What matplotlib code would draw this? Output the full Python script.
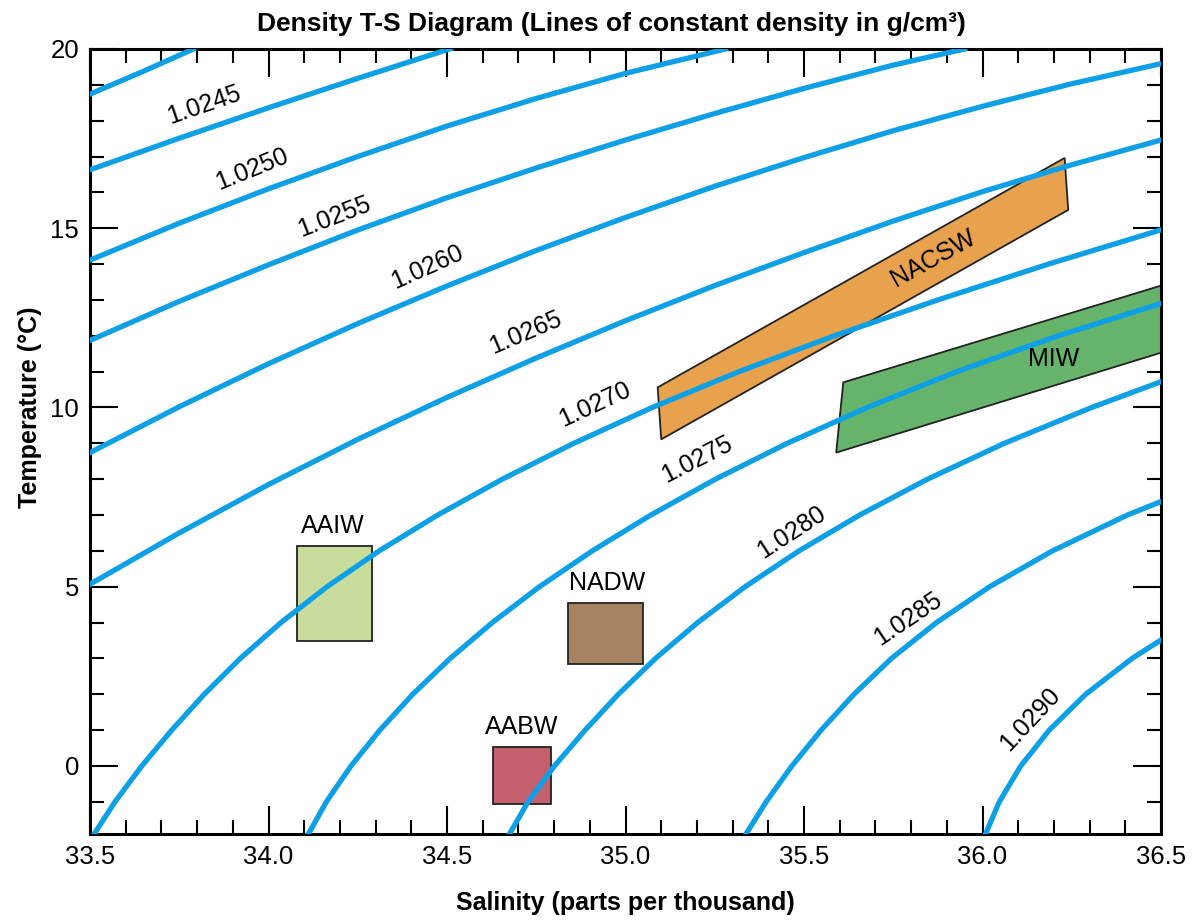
#LIBRERIAS
import matplotlib.pyplot as plt
from matplotlib.ticker import MultipleLocator, FormatStrFormatter

plt.rcParams['font.family'] = ['Liberation Sans', 'DejaVu Sans']

#LINEAS DE DENSIDAD CONSTANTE (salinidad, temperatura)
s_0240 = [33.50, 33.65, 33.79]
t_0240 = [18.74, 19.38, 20.00]

s_0245 = [33.50, 33.75, 34.00, 34.25, 34.51]
t_0245 = [16.63, 17.51, 18.36, 19.18, 20.01]

s_0250 = [33.50, 33.75, 34.00, 34.25, 34.50, 34.75, 35.00, 35.28]
t_0250 = [14.11, 15.14, 16.10, 17.00, 17.85, 18.62, 19.32, 20.00]

s_0255 = [33.50, 33.75, 34.00, 34.25, 34.50, 34.75, 35.00, 35.25, 35.50, 35.75, 35.95]
t_0255 = [11.87, 12.96, 13.98, 14.95, 15.85, 16.68, 17.46, 18.20, 18.90, 19.55, 20.00]

s_0260 = [33.50, 33.75, 34.00, 34.25, 34.50, 34.75, 35.00, 35.25, 35.50, 35.75, 36.00,
          36.25, 36.50]
t_0260 = [8.74, 10.02, 11.22, 12.34, 13.39, 14.38, 15.30, 16.17, 16.97, 17.72, 18.40,
          19.03, 19.59]

s_0265 = [33.50, 33.75, 34.00, 34.25, 34.50, 34.75, 35.00, 35.25, 35.50, 35.75, 36.00,
          36.25, 36.50]
t_0265 = [5.07, 6.50, 7.85, 9.11, 10.28, 11.38, 12.42, 13.40, 14.32, 15.20, 16.02,
          16.77, 17.46]

s_0270 = [33.505, 33.570, 33.645, 33.729, 33.820, 33.921, 34.035, 34.164, 34.310, 34.474,
          34.655, 34.855, 35.075, 35.318, 35.585, 35.875, 36.185, 36.515]
t_0270 = [-2, -1, 0, 1, 2, 3, 4, 5, 6, 7, 8, 9, 10, 11, 12, 13, 14, 15]

s_0275 = [34.106, 34.162, 34.231, 34.312, 34.404, 34.509, 34.627, 34.759, 34.907, 35.071,
          35.252, 35.453, 35.677, 35.928, 36.212, 36.532]
t_0275 = [-2, -1, 0, 1, 2, 3, 4, 5, 6, 7, 8, 9, 10, 11, 12, 13]

s_0280 = [34.669, 34.727, 34.801, 34.887, 34.980, 35.084, 35.202, 35.335, 35.486, 35.656,
          35.846, 36.061, 36.306, 36.576]
t_0280 = [-2, -1, 0, 1, 2, 3, 4, 5, 6, 7, 8, 9, 10, 11]

s_0285 = [35.331, 35.394, 35.466, 35.548, 35.640, 35.745, 35.871, 36.020, 36.196, 36.406,
          36.656]
t_0285 = [-2, -1, 0, 1, 2, 3, 4, 5, 6, 7, 8]

s_0290 = [36.004, 36.047, 36.107, 36.187, 36.289, 36.419, 36.577]
t_0290 = [-2, -1, 0, 1, 2, 3, 4]

#ETIQUETAS DE LAS LINEAS
etiquetas = ['1.0245', '1.0250', '1.0255', '1.0260', '1.0265',
             '1.0270', '1.0275', '1.0280', '1.0285', '1.0290']
etq_s = [33.82, 33.955, 34.184, 34.445, 34.72, 34.913, 35.20, 35.466, 35.792, 36.132]
etq_t = [18.44, 16.66, 15.31, 13.93, 12.08, 10.07, 8.55, 6.52, 4.11, 1.31]
etq_rot = [19, 22, 21, 24, 23, 25, 27, 33, 34, 47]

#MASAS DE AGUA
aaiw_s = [34.08, 34.29]
aaiw_t = [3.48, 6.14]
nadw_s = [34.84, 35.05]
nadw_t = [2.85, 4.55]
aabw_s = [34.63, 34.79]
aabw_t = [-1.06, 0.53]
nacsw_s = [35.09, 36.23, 36.24, 35.10]
nacsw_t = [10.56, 16.96, 15.51, 9.11]
miw_s = [35.61, 36.55, 36.55, 35.59]
miw_t = [10.70, 13.55, 11.68, 8.74]

#FIGURA
fig = plt.figure(figsize=(11.94, 9.22), dpi=100)
ax = fig.add_axes([0.0754, 0.0954, 0.8970, 0.8515])

azul = '#0ea0e6'
lineas = [(s_0240, t_0240), (s_0245, t_0245), (s_0250, t_0250), (s_0255, t_0255),
          (s_0260, t_0260), (s_0265, t_0265), (s_0270, t_0270), (s_0275, t_0275),
          (s_0280, t_0280), (s_0285, t_0285), (s_0290, t_0290)]

#CAJAS DE MASAS DE AGUA (debajo de las lineas)
def caja(s, t, color):
    ax.fill([s[0], s[1], s[1], s[0]], [t[0], t[0], t[1], t[1]],
            facecolor=color, edgecolor='#222222', lw=1.3, zorder=2)

caja(aaiw_s, aaiw_t, '#c8dc9b')
caja(nadw_s, nadw_t, '#a68162')
caja(aabw_s, aabw_t, '#c45f6c')
ax.fill(nacsw_s, nacsw_t, facecolor='#e8a24e', edgecolor='#222222', lw=1.3, zorder=2)
ax.fill(miw_s, miw_t, facecolor='#66b36b', edgecolor='#222222', lw=1.3, zorder=2)

for s, t in lineas:
    ax.plot(s, t, color=azul, lw=3.8, solid_joinstyle='round', zorder=3)

for txt, s, t, r in zip(etiquetas, etq_s, etq_t, etq_rot):
    ax.text(s, t, txt, rotation=r, rotation_mode='anchor', ha='center', va='center',
            fontsize=18, zorder=4)

ax.text(34.18, 6.68, 'AAIW', ha='center', va='center', fontsize=18, zorder=4)
ax.text(34.948, 5.11, 'NADW', ha='center', va='center', fontsize=18, zorder=4)
ax.text(34.71, 1.09, 'AABW', ha='center', va='center', fontsize=18, zorder=4)
ax.text(35.862, 14.16, 'NACSW', rotation=29, rotation_mode='anchor',
        ha='center', va='center', fontsize=18, zorder=4)
ax.text(36.2, 11.35, 'MIW', ha='center', va='center', fontsize=18, zorder=4)

#EJES
ax.set_xlim(33.5, 36.5)
ax.set_ylim(-1.9, 20)
ax.xaxis.set_major_locator(MultipleLocator(0.5))
ax.xaxis.set_minor_locator(MultipleLocator(0.1))
ax.xaxis.set_major_formatter(FormatStrFormatter('%.1f'))
ax.yaxis.set_major_locator(MultipleLocator(5))
ax.yaxis.set_minor_locator(MultipleLocator(1))
ax.tick_params(which='both', direction='in', top=True, right=True, width=1.5)
ax.tick_params(which='major', length=20, labelsize=18.5, pad=8)
ax.tick_params(which='minor', length=10)
for sp in ax.spines.values():
    sp.set_linewidth(2.2)

ax.set_title('Density T-S Diagram (Lines of constant density in g/cm³)',
             fontsize=19, fontweight='bold', pad=13, x=0.4865)
ax.set_xlabel('Salinity (parts per thousand)', fontsize=18, fontweight='bold')
ax.xaxis.set_label_coords(0.5, -0.073)
ax.set_ylabel('Temperature (°C)', fontsize=18, fontweight='bold')
ax.yaxis.set_label_coords(-0.045, 0.543)

plt.savefig('out.png', dpi=100)
